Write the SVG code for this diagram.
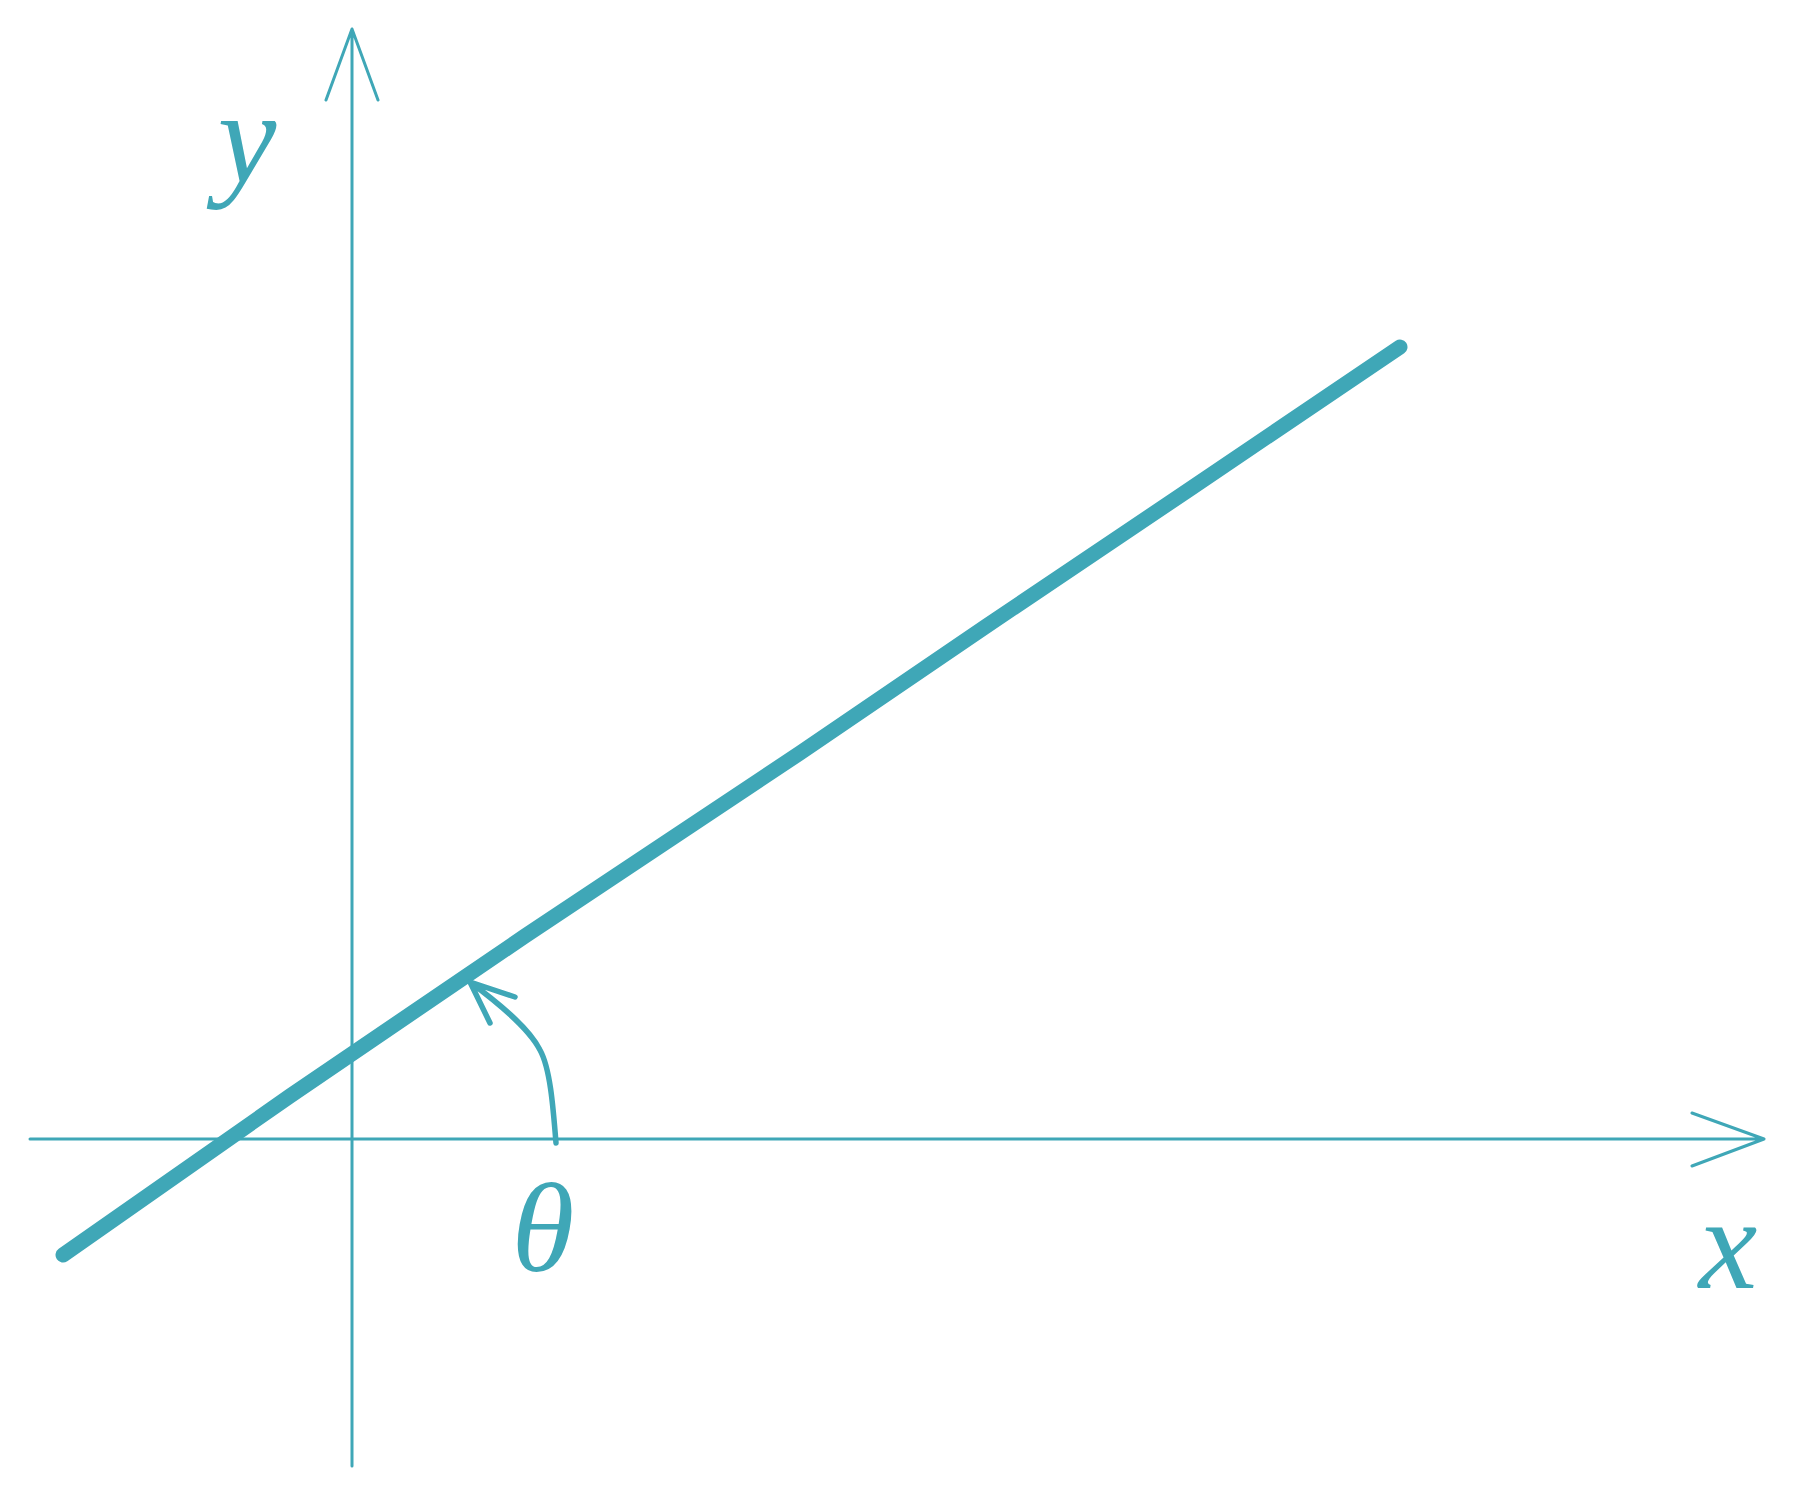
<svg xmlns="http://www.w3.org/2000/svg" width="1793" height="1496" viewBox="0 0 1793 1496">
<style>
.ax{fill:none;stroke:#3fa7b7;stroke-width:3;stroke-linecap:round;stroke-linejoin:round}
.arc{fill:none;stroke:#3fa7b7;stroke-width:5.5;stroke-linecap:round;stroke-linejoin:round}
.ln{fill:none;stroke:#3fa7b7;stroke-width:15;stroke-linecap:round;stroke-linejoin:round}
.lbl{fill:#3fa7b7;font-family:"Liberation Serif",serif;font-style:italic;font-size:132px;text-anchor:middle}
</style>
<rect width="1793" height="1496" fill="#ffffff"/>
<g id="connectors">
<path class="ax" d="M30,1139 L1764,1139 M1692,1113 L1764,1139 L1692,1166"/>
<path class="ax" d="M352,1466 L352,29 M326,100 L352,29 L378,100"/>
<path class="ln" d="M63,1255 L290,1096 L525,936 L800,753 L985,627 L1190,489 L1400,347"/>
<path class="arc" d="M556,1143 C553,1105 550,1068 540,1050 C530,1030 505,1008 470,982 M515,997 L470,982 L490,1023"/>
</g>
<g id="label-y"><text class="lbl" x="247" y="182">y</text></g>
<g id="label-x"><text class="lbl" x="1728" y="1288">x</text></g>
<g id="label-theta"><text class="lbl" x="543" y="1271" style="font-size:128px">θ</text></g>
</svg>
